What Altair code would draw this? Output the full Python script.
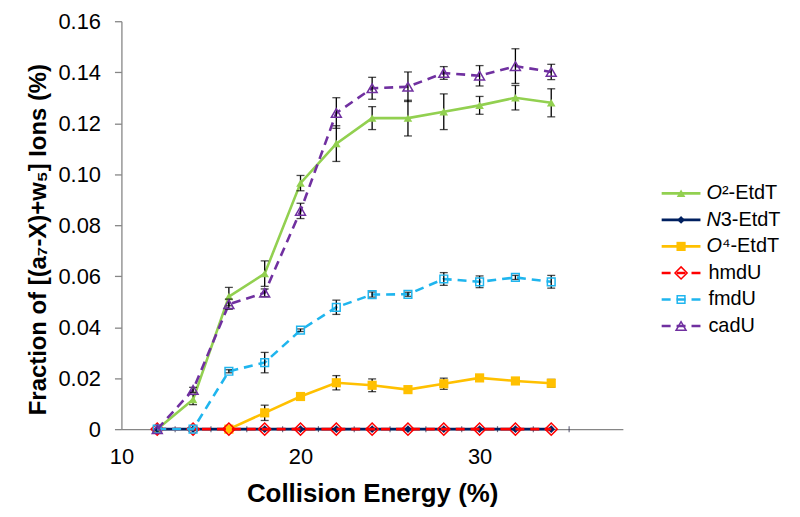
import altair as alt
import pandas as pd

# ---------------- data ----------------
energy = [12, 14, 16, 18, 20, 22, 24, 26, 28, 30, 32, 34]

series_names = ["O²-EtdT", "N3-EtdT", "O⁴-EtdT", "hmdU", "fmdU", "cadU"]

o2_etdt     = [0, 0.0116, 0.052, 0.061, 0.0965, 0.112, 0.122, 0.122, 0.1245, 0.127, 0.130, 0.128]
o2_etdt_err = [0, 0.002, 0.0036, 0.005, 0.003, 0.007, 0.0045, 0.007, 0.007, 0.0035, 0.0048, 0.0055]

n3_etdt     = [0, 0, 0, 0, 0, 0, 0, 0, 0, 0, 0, 0]
n3_etdt_err = [0, 0, 0, 0, 0, 0, 0, 0, 0, 0, 0, 0]

o4_etdt     = [None, None, 0, 0.0064, 0.0128, 0.0182, 0.0172, 0.0155, 0.0178, 0.0201, 0.0189, 0.018]
o4_etdt_err = [None, None, 0, 0.003, 0.0005, 0.0028, 0.0025, 0.001, 0.0022, 0.0008, 0.001, 0.0015]

hmdu        = [0, 0, 0, 0, 0, 0, 0, 0, 0, 0, 0, 0]
hmdu_err    = [0, 0, 0, 0, 0, 0, 0, 0, 0, 0, 0, 0]

fmdu        = [0, 0, 0.0227, 0.0261, 0.0388, 0.0478, 0.0528, 0.0529, 0.0589, 0.0578, 0.0595, 0.0578]
fmdu_err    = [0, 0, 0.0006, 0.004, 0.0005, 0.0028, 0.001, 0.0008, 0.0025, 0.0023, 0.0008, 0.0025]

cadu        = [0, 0.0154, 0.049, 0.0535, 0.0856, 0.124, 0.1337, 0.1343, 0.1397, 0.1386, 0.1424, 0.1401]
cadu_err    = [0, 0.001, 0.002, 0.0015, 0.003, 0.006, 0.0043, 0.0058, 0.0025, 0.004, 0.0068, 0.003]

x_tick_values = [10, 20, 30]
x_minor_ticks = [13, 15, 17, 19, 21, 23, 25, 27, 29, 31, 33, 35]
y_tick_values = [0, 0.02, 0.04, 0.06, 0.08, 0.10, 0.12, 0.14, 0.16]

x_title = "Collision Energy (%)"
y_title = "Fraction of [(a₇-X)+w₅] Ions (%)"

# legend label pieces: italic prefix + regular rest
legend_italic = ["O", "N", "O", "", "", ""]
legend_rest = ["²-EtdT", "3-EtdT", "⁴-EtdT", "hmdU", "fmdU", "cadU"]

values = [o2_etdt, n3_etdt, o4_etdt, hmdu, fmdu, cadu]
errors = [o2_etdt_err, n3_etdt_err, o4_etdt_err, hmdu_err, fmdu_err, cadu_err]

# ---------------- styles ----------------
FONT = "Liberation Sans"
AXIS_GRAY = "#868686"
styles = {
    "O²-EtdT": dict(color="#92D050", dash=None, shape="triangle-up", size=75, filled=True),
    "N3-EtdT": dict(color="#002060", dash=None, shape="diamond", size=60, filled=True),
    "O⁴-EtdT": dict(color="#FFC000", dash=None, shape="square", size=85, filled=True),
    "hmdU":    dict(color="#FF0000", dash=[9, 6], shape="diamond", size=150, filled=False),
    "fmdU":    dict(color="#1FB5EE", dash=[9, 6], shape="square", size=60, filled=False),
    "cadU":    dict(color="#7030A0", dash=[9, 6], shape="triangle-up", size=100, filled=False),
}

W, H = 504, 410
PAD_TOP = 12

x_scale = alt.Scale(domain=[10, 38], nice=False, zero=False)
y_scale = alt.Scale(domain=[0, 0.16], nice=False)

x_axis = alt.Axis(
    values=x_tick_values, ticks=False, tickSize=0, grid=False, labelFlush=False,
    domainColor=AXIS_GRAY, domainWidth=1.3,
    labelFont=FONT, labelFontSize=22, labelColor="black", labelPadding=18,
    titleFont=FONT, titleFontSize=26, titleFontWeight="bold", titleColor="black",
    titleBaseline="top", titleY=52,
)
y_axis = alt.Axis(
    values=y_tick_values, grid=False, tickSize=7, tickColor=AXIS_GRAY, tickWidth=1.3,
    domainColor=AXIS_GRAY, domainWidth=1.3, labelFlush=False,
    labelExpr="datum.value == 0 ? '0' : format(datum.value, '.2f')",
    labelFont=FONT, labelFontSize=22, labelColor="black", labelPadding=14,
    titleFont=FONT, titleFontSize=24, titleFontWeight="bold", titleColor="black",
    titleX=-71, titleY=219,
)


def X(field="energy"):
    return alt.X(f"{field}:Q", scale=x_scale, axis=x_axis, title=x_title)


def Y(field):
    return alt.Y(f"{field}:Q", scale=y_scale, axis=y_axis, title=y_title)


layers = []

# small crossing marks on the x axis line
minor_df = pd.DataFrame({"energy": x_minor_ticks, "zero": [0] * len(x_minor_ticks)})
layers.append(
    alt.Chart(minor_df).mark_tick(orient="vertical", size=6, thickness=1.2, color="#303050")
    .encode(x=X(), y=Y("zero"))
)

for name, vals, errs in zip(series_names, values, errors):
    st = styles[name]
    df = pd.DataFrame({"energy": energy, "value": vals, "err": errs}).dropna()
    df["lo"] = df["value"] - df["err"]
    df["hi"] = df["value"] + df["err"]
    base = alt.Chart(df)

    line_kw = dict(color=st["color"], strokeWidth=2.6)
    if st["dash"]:
        line_kw["strokeDash"] = st["dash"]
    layers.append(base.mark_line(**line_kw).encode(x=X(), y=Y("value")))

    eb = base.transform_filter("datum.err > 0")
    layers.append(eb.mark_rule(color="black", strokeWidth=1.3).encode(x=X(), y=Y("lo"), y2="hi:Q"))
    layers.append(eb.mark_tick(orient="horizontal", size=8, thickness=1.3, color="black")
                  .encode(x=X(), y=Y("lo")))
    layers.append(eb.mark_tick(orient="horizontal", size=8, thickness=1.3, color="black")
                  .encode(x=X(), y=Y("hi")))

    pt_kw = dict(shape=st["shape"], size=st["size"], color=st["color"], opacity=1,
                 strokeWidth=1.5, filled=st["filled"])
    if st["filled"]:
        pt_kw["fill"] = st["color"]
    layers.append(base.mark_point(**pt_kw).encode(x=X(), y=Y("value")))

# ---------------- custom legend (pixel layout, right of the plot) ----------------
LEG_X0, LEG_X1, LEG_XM = 543, 582, 562.5
LEG_TEXT_X = 588
LEG_Y0, LEG_DY = 173, 26.67
LEG_FS = 20
ital_width = {"O": 15.6, "N": 14.4}

for i, name in enumerate(series_names):
    st = styles[name]
    ly = LEG_Y0 + LEG_DY * i
    one = alt.Chart(pd.DataFrame({"label": [legend_rest[i]], "ital": [legend_italic[i]]}))
    rule_kw = dict(color=st["color"], strokeWidth=2.6)
    if st["dash"]:
        rule_kw["strokeDash"] = st["dash"]
    layers.append(one.mark_rule(**rule_kw).encode(
        x=alt.value(LEG_X0), x2=alt.value(LEG_X1), y=alt.value(ly)))
    pt_kw = dict(shape=st["shape"], size=st["size"], color=st["color"], opacity=1,
                 strokeWidth=1.5, filled=st["filled"])
    if st["filled"]:
        pt_kw["fill"] = st["color"]
    layers.append(one.mark_point(**pt_kw).encode(x=alt.value(LEG_XM), y=alt.value(ly)))
    if legend_italic[i]:
        split = LEG_TEXT_X + ital_width[legend_italic[i]]
        layers.append(one.mark_text(align="right", baseline="middle", font=FONT, fontSize=LEG_FS,
                                    fontStyle="italic", color="black")
                      .encode(text="ital:N", x=alt.value(split), y=alt.value(ly)))
        layers.append(one.mark_text(align="left", baseline="middle", font=FONT, fontSize=LEG_FS,
                                    color="black")
                      .encode(text="label:N", x=alt.value(split), y=alt.value(ly)))
    else:
        layers.append(one.mark_text(align="left", baseline="middle", font=FONT, fontSize=LEG_FS,
                                    color="black")
                      .encode(text="label:N", x=alt.value(LEG_TEXT_X + 2), y=alt.value(ly)))

chart = (
    alt.layer(*layers)
    .properties(
        width=W, height=H,
        autosize=alt.AutoSizeParams(type="none"),
        padding={"left": 114, "top": PAD_TOP, "right": 170, "bottom": 85},
        background="white",
    )
    .configure_view(stroke=None)
)

chart.save("out.html", embed_options={"renderer": "svg", "actions": False})
